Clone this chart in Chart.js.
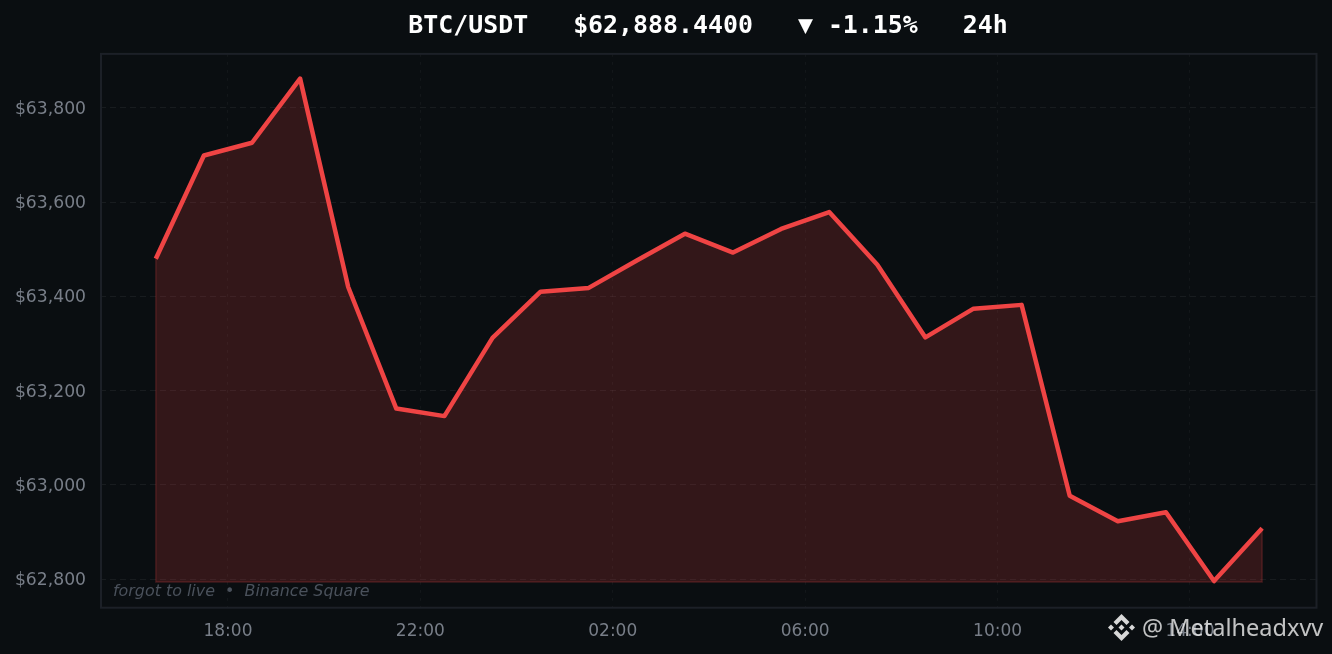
<!DOCTYPE html>
<html lang="en">
<head>
<meta charset="UTF-8">
<title>BTC/USDT 24h</title>
<script src="https://cdn.jsdelivr.net/npm/chart.js"></script>
<style>
  html, body { margin: 0; padding: 0; background: #0a0e11; overflow: hidden; }
  #wrap { position: relative; width: 1332px; height: 654px; }
  #priceChart { display: block; }
  #watermark { position: absolute; left: 1108px; top: 611px; height: 32px; display: flex; align-items: center;
    font: 23.5px "Noto Sans", sans-serif; color: rgba(235,235,235,0.82); white-space: nowrap; }
  #watermark svg { margin-right: 7px; }
</style>
</head>
<body>
<div id="wrap">
  <canvas id="priceChart" width="1332" height="654"></canvas>
  <div id="watermark">
    <svg width="27" height="27" viewBox="-13.5 -13.5 27 27" fill="#d8d8d8">
      <path d="M0-13.5 8-5.5 5-2.5 0-7.5-5-2.5-8-5.5Z"/>
      <path d="M0 13.5 8 5.5 5 2.5 0 7.5-5 2.5-8 5.5Z"/>
      <path d="M0-3 3 0 0 3-3 0Z"/>
      <path d="M-10.5-3-7.5 0-10.5 3-13.5 0Z"/>
      <path d="M10.5-3 13.5 0 10.5 3 7.5 0Z"/>
    </svg>@ Metalheadxvv
  </div>
</div>
<script>
// hours counted from midnight of the first day
const hours = [16.5, 17.5, 18.5, 19.5, 20.5, 21.5, 22.5, 23.5, 24.5, 25.5, 26.5, 27.5,
               28.5, 29.5, 30.5, 31.5, 32.5, 33.5, 34.5, 35.5, 36.5, 37.5, 38.5, 39.5];
const prices = [63480, 63699, 63726, 63862, 63420, 63162, 63146, 63312, 63410, 63418, 63476, 63533,
                63493, 63543, 63579, 63467, 63313, 63374, 63382, 62977, 62923, 62942, 62796, 62908];
const fillBase = 62794;
const xTickHours = [18, 22, 26, 30, 34, 38];
const xTickLabels = ['18:00', '22:00', '02:00', '06:00', '10:00', '14:00'];
const yTickValues = [62800, 63000, 63200, 63400, 63600, 63800];
const titleText = 'BTC/USDT   $62,888.4400   ▼ -1.15%   24h';
const noteText = 'forgot to live  •  Binance Square';

// frame round the plot and the small note in the corner
const framePlugin = {
  id: 'frame',
  beforeDatasetsDraw(chart) {
    const a = chart.chartArea, ctx = chart.ctx;
    ctx.save();
    ctx.strokeStyle = '#1c2027';
    ctx.lineWidth = 2;
    ctx.strokeRect(a.left + 1, a.top, a.width - 0.5, a.height + 0.7);
    ctx.restore();
  },
  afterDatasetsDraw(chart) {
    const a = chart.chartArea, ctx = chart.ctx;
    ctx.save();
    ctx.font = 'italic 15.9px "DejaVu Sans"';
    ctx.fillStyle = '#4a515b';
    ctx.textBaseline = 'middle';
    ctx.fillText(noteText, a.left + 13, 591.5);
    ctx.restore();
  }
};

new Chart(document.getElementById('priceChart'), {
  type: 'line',
  data: {
    datasets: [
      {
        data: hours.map((h, i) => ({ x: h, y: prices[i] })),
        borderColor: '#ef4444',
        borderWidth: 4.5,
        pointRadius: 0,
        tension: 0,
        borderJoinStyle: 'round',
        backgroundColor: 'rgba(239,68,68,0.18)',
        fill: { value: fillBase },
        clip: false
      },
      {
        // darker outline down the sides and along the bottom of the fill
        data: [
          { x: hours[0], y: prices[0] },
          { x: hours[0], y: fillBase },
          { x: hours[hours.length - 1], y: fillBase },
          { x: hours[hours.length - 1], y: prices[prices.length - 1] }
        ],
        borderColor: 'rgba(239,68,68,0.22)',
        borderWidth: 1.5,
        pointRadius: 0,
        tension: 0,
        fill: false
      }
    ]
  },
  options: {
    responsive: false,
    animation: false,
    devicePixelRatio: 1,
    layout: { padding: { left: 0, right: 16, top: 0, bottom: 0 } },
    plugins: {
      legend: { display: false },
      tooltip: { enabled: false },
      title: {
        display: true,
        fullSize: false,
        text: titleText,
        color: '#ffffff',
        font: { family: '"DejaVu Sans Mono"', size: 24.9, weight: 'bold' },
        padding: { top: 12, bottom: 12 }
      }
    },
    scales: {
      x: {
        type: 'linear',
        min: 15.34,
        max: 40.62,
        border: { display: false, dash: [3, 5] },
        grid: { color: 'rgba(255,255,255,0.04)', drawTicks: false },
        ticks: {
          color: '#787e88',
          font: { family: '"DejaVu Sans"', size: 17 },
          padding: 14,
          maxRotation: 0,
          autoSkip: false,
          callback: v => xTickLabels[xTickHours.indexOf(v)]
        },
        afterBuildTicks: s => { s.ticks = xTickHours.map(v => ({ value: v })); },
        afterFit: s => { s.height = 47; }
      },
      y: {
        min: 62741,
        max: 63914.5,
        border: { display: false, dash: [6, 4] },
        grid: { color: 'rgba(255,255,255,0.06)', drawTicks: false },
        ticks: {
          color: '#787e88',
          // empty first line of 3px nudges the label down onto its grid line
          font: { family: '"DejaVu Sans"', size: 17.2, lineHeight: '3px' },
          padding: 14,
          callback: v => ['', '$' + v.toLocaleString('en-US')]
        },
        afterBuildTicks: s => { s.ticks = yTickValues.map(v => ({ value: v })); },
        afterFit: s => { s.width = 100; }
      }
    }
  },
  plugins: [framePlugin]
});
</script>
</body>
</html>
